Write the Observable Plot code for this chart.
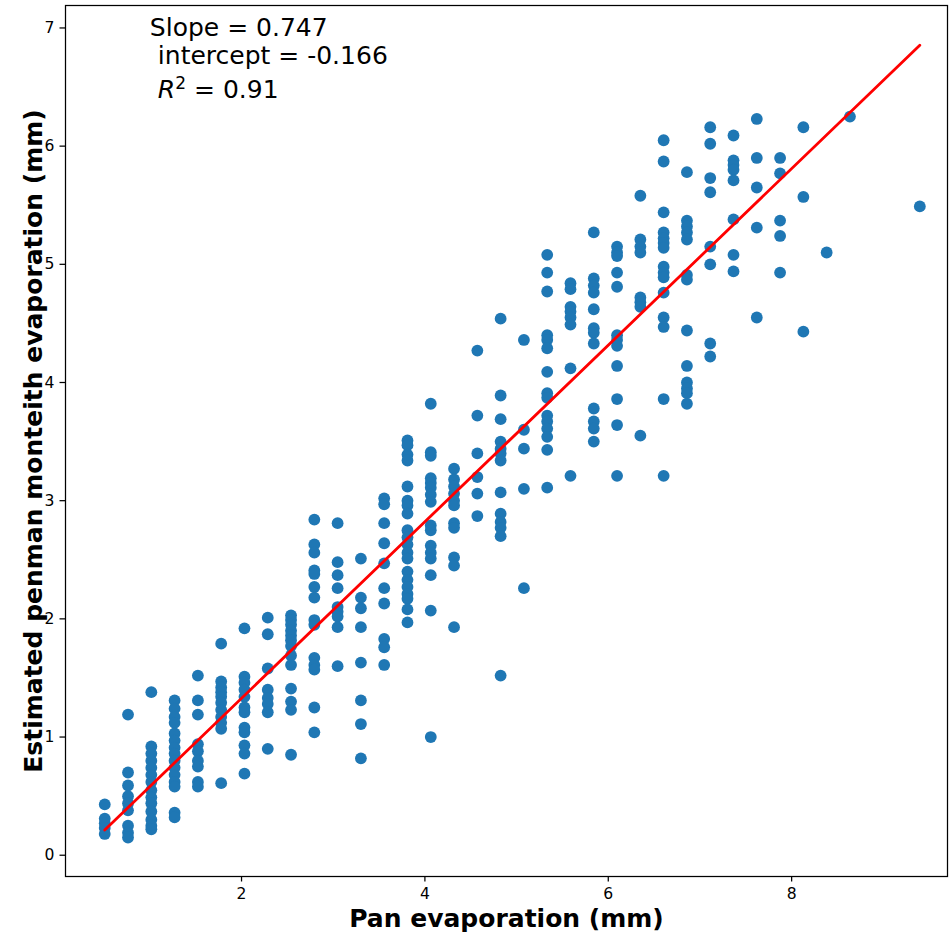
<!DOCTYPE html>
<html>
<head>
<meta charset="utf-8">
<script src="https://cdn.jsdelivr.net/npm/d3@7"></script>
<script src="https://cdn.jsdelivr.net/npm/@observablehq/plot@0.6"></script>
<style>
  html, body { margin: 0; padding: 0; background: #fff; }
  svg { display: block; }
</style>
</head>
<body>
<div id="chart"></div>
<script>
// Pan evaporation columns (mm)
const panX = [0.508, 0.762, 1.016, 1.270, 1.524, 1.778, 2.032, 2.286, 2.540, 2.794,
  3.048, 3.302, 3.556, 3.810, 4.064, 4.318, 4.572, 4.826, 5.080, 5.334,
  5.588, 5.842, 6.096, 6.350, 6.604, 6.858, 7.112, 7.366, 7.620, 7.874,
  8.128, 8.382, 8.636, 9.398];

// Estimated Penman-Monteith evaporation (mm) for each pan column
const pmY = [
  [0.43, 0.31, 0.27, 0.23, 0.18],
  [1.19, 0.70, 0.59, 0.50, 0.44, 0.38, 0.25, 0.19, 0.15],
  [1.38, 0.92, 0.86, 0.80, 0.74, 0.68, 0.62, 0.55, 0.49, 0.44, 0.37, 0.30, 0.25, 0.22],
  [1.31, 1.24, 1.17, 1.12, 1.03, 0.97, 0.91, 0.86, 0.80, 0.74, 0.68, 0.62, 0.58, 0.36, 0.32],
  [1.52, 1.31, 1.19, 0.94, 0.88, 0.80, 0.75, 0.62, 0.58],
  [1.79, 1.47, 1.42, 1.38, 1.34, 1.29, 1.23, 1.17, 1.12, 1.07, 0.61],
  [1.92, 1.51, 1.46, 1.40, 1.34, 1.25, 1.21, 1.08, 1.04, 0.93, 0.86, 0.69],
  [2.01, 1.87, 1.58, 1.40, 1.33, 1.28, 1.21, 0.90],
  [2.03, 1.99, 1.95, 1.90, 1.86, 1.82, 1.77, 1.69, 1.61, 1.41, 1.30, 1.23, 0.85],
  [2.84, 2.63, 2.56, 2.41, 2.38, 2.27, 2.18, 1.99, 1.95, 1.67, 1.61, 1.57, 1.25, 1.04],
  [2.81, 2.48, 2.37, 2.26, 2.10, 2.06, 2.02, 1.93, 1.60],
  [2.51, 2.18, 2.09, 1.93, 1.63, 1.31, 1.11, 0.82],
  [3.02, 2.97, 2.81, 2.64, 2.47, 2.26, 2.13, 1.83, 1.76, 1.61],
  [3.51, 3.47, 3.39, 3.34, 3.12, 3.00, 2.96, 2.89, 2.75, 2.69, 2.63, 2.56, 2.51, 2.40, 2.33, 2.27, 2.21, 2.17, 2.08, 1.97],
  [3.82, 3.41, 3.38, 3.19, 3.15, 3.11, 3.05, 2.99, 2.79, 2.75, 2.62, 2.56, 2.51, 2.37, 2.07, 1.00],
  [3.27, 3.18, 3.12, 3.06, 3.00, 2.96, 2.81, 2.77, 2.52, 2.45, 1.93],
  [4.27, 3.72, 3.40, 3.20, 3.06, 2.87],
  [4.54, 3.89, 3.69, 3.50, 3.44, 3.40, 3.34, 3.07, 2.89, 2.82, 2.77, 2.70, 1.52],
  [4.36, 3.60, 3.44, 3.10, 2.26],
  [5.08, 4.93, 4.77, 4.40, 4.36, 4.29, 4.09, 3.91, 3.87, 3.72, 3.67, 3.61, 3.54, 3.43, 3.11],
  [4.84, 4.79, 4.64, 4.60, 4.55, 4.49, 4.12, 3.21],
  [5.27, 4.88, 4.82, 4.76, 4.62, 4.46, 4.42, 4.33, 3.78, 3.67, 3.61, 3.50],
  [5.15, 5.10, 5.07, 4.93, 4.81, 4.40, 4.36, 4.31, 4.14, 3.86, 3.64, 3.21],
  [5.58, 5.21, 5.15, 5.10, 4.72, 4.68, 4.64, 3.55],
  [6.05, 5.87, 5.44, 5.27, 5.22, 5.18, 5.14, 4.98, 4.93, 4.89, 4.76, 4.55, 4.47, 3.86, 3.21],
  [5.78, 5.37, 5.32, 5.27, 5.21, 4.91, 4.87, 4.44, 4.14, 4.00, 3.95, 3.91, 3.82],
  [6.16, 6.02, 5.73, 5.61, 5.15, 5.00, 4.33, 4.22],
  [6.09, 5.88, 5.84, 5.80, 5.71, 5.38, 5.08, 4.94],
  [6.23, 5.90, 5.65, 5.31, 4.55],
  [5.90, 5.77, 5.37, 5.24, 4.93],
  [6.16, 5.57, 4.43],
  [5.10],
  [6.25],
  [5.49]
];

const xTicks = [2, 4, 6, 8];
const yTicks = [0, 1, 2, 3, 4, 5, 6, 7];

const slope = 0.747;
const intercept = -0.166;
const r2 = 0.91;

const xLabel = "Pan evaporation (mm)";
const yLabel = "Estimated penman monteith evaporation (mm)";
const line1 = `Slope = ${slope}`;
const line2 = `intercept = ${intercept}`;
const line3 = `R2 = ${r2}`;

// Build table
const points = panX.flatMap((x, i) => pmY[i].map(y => ({x, y})));
const xExt = d3.extent(points, d => d.x);
const fit = xExt.map(x => ({x, y: slope * x + intercept}));

const font = "DejaVu Sans, Verdana, sans-serif";
const annot = {x: 1, frameAnchor: "top", textAnchor: "start", lineAnchor: "middle", fontSize: 25, fill: "black"};

const chart = Plot.plot({
  width: 949,
  height: 937,
  marginLeft: 65,
  marginRight: 2,
  marginTop: 5,
  marginBottom: 61,
  style: {fontFamily: font, background: "white", color: "black"},
  x: {domain: [0.08, 9.70]},
  y: {domain: [-0.18, 7.19]},
  marks: [
    Plot.axisX({ticks: xTicks, tickSize: 5.5, tickPadding: 5.5, fontSize: 15.6, label: null, strokeWidth: 1.25}),
    Plot.axisY({ticks: yTicks, tickSize: 5.5, tickPadding: 5.5, fontSize: 15.6, label: null, strokeWidth: 1.25}),
    Plot.dot(points, {x: "x", y: "y", r: 5.9, fill: "#1f77b4", stroke: "none"}),
    Plot.line(fit, {x: "x", y: "y", stroke: "#ff0000", strokeWidth: 2.8}),
    Plot.frame({stroke: "black", strokeWidth: 1.25}),
    Plot.text([xLabel], {text: d => d, frameAnchor: "bottom", lineAnchor: "middle", textAnchor: "middle", dy: 42, fontSize: 25, fontWeight: "bold", fill: "black"}),
    Plot.text([yLabel], {text: d => d, frameAnchor: "left", lineAnchor: "middle", textAnchor: "middle", rotate: -90, dx: -32, fontSize: 25, fontWeight: "bold", fill: "black"}),
    Plot.text([line1], {...annot, text: d => d, dy: 22}),
    Plot.text([line2], {...annot, text: d => d, dy: 50, dx: 8}),
    Plot.text([line3], {...annot, text: d => d, dy: 84, dx: 8})
  ]
});

// Typeset R² with italic R and superscript 2
const ns = "http://www.w3.org/2000/svg";
chart.querySelectorAll("text").forEach(t => {
  if (t.textContent === line3) {
    t.textContent = "";
    const a = document.createElementNS(ns, "tspan");
    a.setAttribute("font-style", "italic");
    a.textContent = "R";
    const b = document.createElementNS(ns, "tspan");
    b.setAttribute("font-size", "17");
    b.setAttribute("dy", "-9");
    b.textContent = "2";
    const c = document.createElementNS(ns, "tspan");
    c.setAttribute("dy", "9");
    c.textContent = " = " + r2;
    t.append(a, b, c);
  }
});

document.getElementById("chart").appendChild(chart);
</script>
</body>
</html>
